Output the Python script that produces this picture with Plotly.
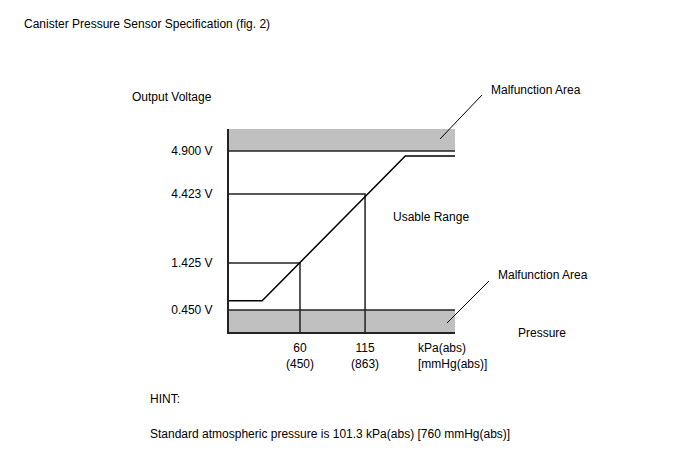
import numpy as np
import plotly.graph_objects as go

# ---------------- data ----------------
TITLE = "Canister Pressure Sensor Specification (fig. 2)"
VOLT_LEVELS = [0.450, 1.425, 4.423, 4.900]
VOLT_LABELS = ["0.450 V", "1.425 V", "4.423 V", "4.900 V"]
REF_PRESSURE = [60, 115]           # kPa(abs)
REF_MMHG = ["(450)", "(863)"]
REF_VOLT = [1.425, 4.423]
SIGNAL_PRESSURE = [0, 28, 149, 191]
SIGNAL_VOLT = [0.64, 0.64, 4.845, 4.845]
P_MAX = 191
V_MIN, V_MAX = 0.0, 5.0

# ---------------- schematic (non-linear) voltage scale ----------------
V_ANCH = [0.0, 0.450, 1.425, 4.423, 4.900, 5.0]
D_ANCH = [0, 22, 69, 138, 181, 203]
def yd(v):
    return np.interp(v, V_ANCH, D_ANCH)

FONT = "Arial, Liberation Sans, Helvetica, sans-serif"
FS = 12
LW = 1.5
OFF = 8  # page body margin
fig = go.Figure()

# voltage limit lines (full width)
for v in [VOLT_LEVELS[0], VOLT_LEVELS[-1]]:
    fig.add_trace(go.Scatter(x=[0, P_MAX], y=[yd(v), yd(v)], mode="lines",
                             line=dict(color="#222", width=LW), hoverinfo="skip"))
# reference lines
for p, v in zip(REF_PRESSURE, REF_VOLT):
    fig.add_trace(go.Scatter(x=[0, p, p], y=[yd(v), yd(v), yd(V_MIN)], mode="lines",
                             line=dict(color="#222", width=LW), hoverinfo="skip"))
# sensor signal
fig.add_trace(go.Scatter(x=SIGNAL_PRESSURE, y=yd(np.array(SIGNAL_VOLT)), mode="lines",
                         line=dict(color="#000", width=LW), hoverinfo="skip"))

# malfunction bands
fig.add_shape(type="rect", x0=0, x1=P_MAX, y0=yd(VOLT_LEVELS[-1]), y1=yd(V_MAX),
              fillcolor="#c0c0c0", line_width=0, layer="below")
fig.add_shape(type="rect", x0=0, x1=P_MAX, y0=yd(V_MIN), y1=yd(VOLT_LEVELS[0]),
              fillcolor="#c0c0c0", line_width=0, layer="below")

# leader lines (paper coords, from target pixel positions)
def px(x): return (x - 229) / 226
def py(y): return (332 - y) / 203
for (x0, y0, x1, y1) in [(440, 139, 482, 95), (447, 323, 489, 281)]:
    fig.add_shape(type="line", xref="paper", yref="paper",
                  x0=px(x0), y0=py(y0), x1=px(x1), y1=py(y1),
                  line=dict(color="#000", width=1))

def ann(text, x, y):
    fig.add_annotation(text=text, xref="paper", yref="paper", x=px(x - 1.5), y=py(y),
                       xanchor="left", yanchor="middle", showarrow=False, align="left",
                       font=dict(family=FONT, size=FS, color="#000"))

ann("Output Voltage", 131, 97)
ann("Usable Range", 392, 217)
ann("Malfunction Area", 490, 90)
ann("Malfunction Area", 497, 275)
ann("Pressure", 517, 333)
ann("HINT:", 149, 399)
ann("Standard atmospheric pressure is 101.3 kPa(abs) [760 mmHg(abs)]", 149, 434)
fig.add_annotation(text="kPa(abs)<br>[mmHg(abs)]", xref="paper", yref="paper",
                   x=px(416), y=0, yshift=-7, xanchor="left", yanchor="top",
                   showarrow=False, align="left",
                   font=dict(family=FONT, size=FS, color="#000"))

W, H = 688 - OFF, 463 - OFF
L, T = 229 - OFF, 129 - OFF
fig.update_layout(
    width=W, height=H,
    margin=dict(l=L, r=W - L - 226, t=T, b=H - T - 203),
    paper_bgcolor="white", plot_bgcolor="white",
    showlegend=False,
    font=dict(family=FONT, size=FS, color="#000"),
    title=dict(text=TITLE, x=(24 - OFF) / W, xref="container", xanchor="left",
               y=1 - (24 - OFF) / H, yref="container", yanchor="middle",
               font=dict(family=FONT, size=FS, color="#000")),
    xaxis=dict(range=[0, P_MAX], showgrid=False, zeroline=False,
               showline=True, linecolor="#222", linewidth=2,
               tickvals=REF_PRESSURE,
               ticktext=[f"{p}<br>{m}" for p, m in zip(REF_PRESSURE, REF_MMHG)],
               ticks="", ticklabelstandoff=4, tickfont=dict(size=FS)),
    yaxis=dict(range=[0, 203], showgrid=False, zeroline=False,
               showline=True, linecolor="#222", linewidth=2,
               tickvals=list(yd(np.array(VOLT_LEVELS))), ticktext=VOLT_LABELS,
               ticks="", ticklabelstandoff=12, tickfont=dict(size=FS)),
)

fig.write_html("out.html")
